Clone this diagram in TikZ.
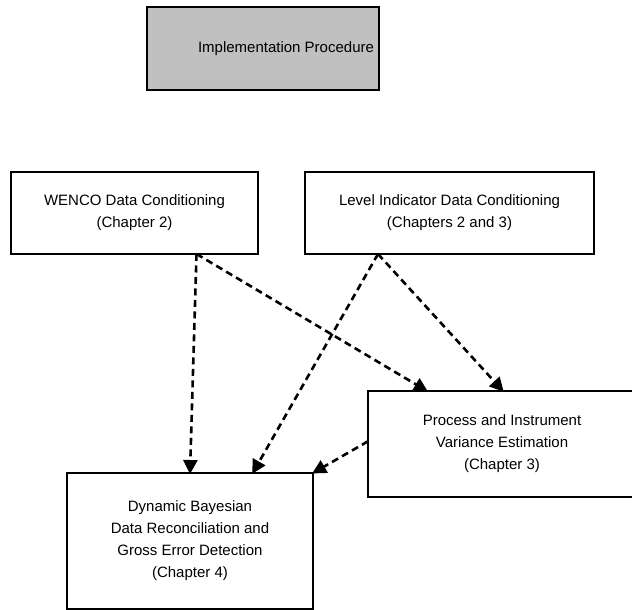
\documentclass[tikz,border=0pt]{standalone}
\usepackage{fontspec}
\setmainfont{Liberation Sans}
\usetikzlibrary{arrows.meta,calc}
\definecolor{boxgray}{RGB}{192,192,192}
\tikzset{
  stagebox/.style={draw=black, line width=2.3pt, align=center, inner sep=0pt, outer sep=0pt,
    font=\fontsize{15}{22}\selectfont, fill=white},
  flow/.style={line width=2.6pt, dash pattern=on 7pt off 4.5pt,
    -{Triangle[length=14pt,width=14pt]}, shorten >=-1pt}
}
\begin{document}
\begin{tikzpicture}[x=1pt,y=-1pt]
\useasboundingbox (0,0) rectangle (632,610);
\begin{scope}
\clip (0,0) rectangle (632,610);
% title box, its label set towards the right
\node[stagebox, fill=boxgray, minimum width=232pt, minimum height=83pt] (title) at (263,48.5) {};
\node[font=\fontsize{15}{22}\selectfont, inner sep=0pt] (titletext) at (286,48.5)
  {Implementation Procedure};
% data conditioning stages
\node[stagebox, minimum width=247pt, minimum height=82pt] (wenco) at (134.5,213)
  {WENCO Data Conditioning\\(Chapter 2)};
\node[stagebox, minimum width=289pt, minimum height=82pt] (level) at (449.5,213)
  {Level Indicator Data Conditioning\\(Chapters 2 and 3)};
% variance estimation
\node[stagebox, minimum width=268pt, minimum height=106pt] (proc) at (502,444)
  {Process and Instrument\\Variance Estimation\\(Chapter 3)};
% reconciliation
\node[stagebox, minimum width=246pt, minimum height=136pt] (dyn) at (190,541)
  {Dynamic Bayesian\\Data Reconciliation and\\Gross Error Detection\\(Chapter 4)};
% connectors
\draw[flow] ([xshift=62pt]wenco.south) -- (dyn.north);
\draw[flow] ([xshift=62pt]wenco.south) -- ([xshift=-75pt]proc.north);
\draw[flow] ([xshift=-71.5pt]level.south) -- ([xshift=62.7pt]dyn.north);
\draw[flow] ([xshift=-71.5pt]level.south) -- ([xshift=1pt]proc.north);
\draw[flow] ([yshift=2.7pt]proc.west) -- (dyn.north east);
\end{scope}
\end{tikzpicture}
\end{document}
